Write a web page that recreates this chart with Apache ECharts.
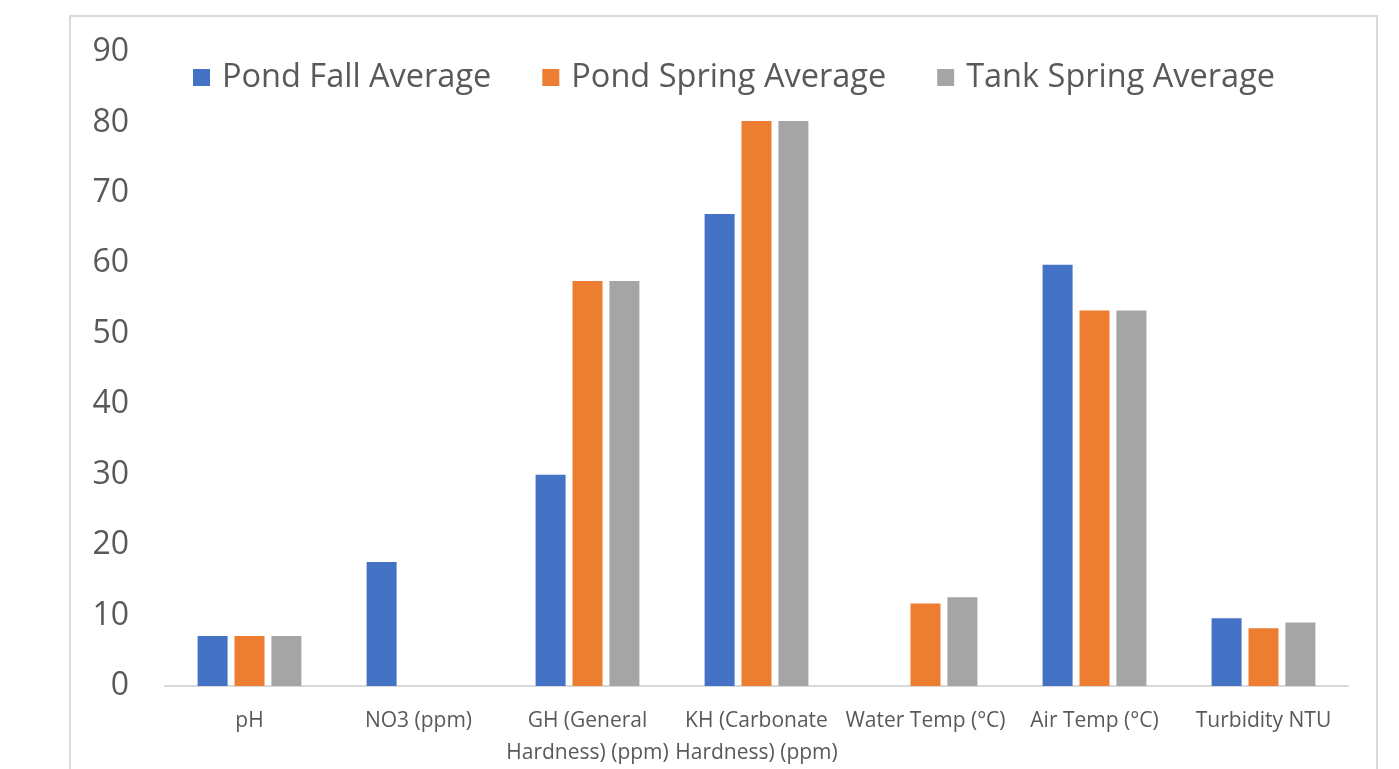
<!DOCTYPE html>
<html>
<head>
<meta charset="utf-8">
<title>Pond and Tank Water Quality Averages</title>
<script src="https://cdn.jsdelivr.net/npm/echarts@6/dist/echarts.min.js"></script>
<style>
  html, body { margin: 0; padding: 0; background: #ffffff; }
  #chart { width: 1399px; height: 769px; }
</style>
</head>
<body>
<div id="chart"></div>
<script>
// Measured parameters (categories on the x axis)
const categories = [
  'pH',
  'NO3 (ppm)',
  'GH (General\nHardness) (ppm)',
  'KH (Carbonate\nHardness) (ppm)',
  'Water Temp (\u00B0C)',
  'Air Temp (\u00B0C)',
  'Turbidity NTU'
];

// Series names
const seriesNames = ['Pond Fall Average', 'Pond Spring Average', 'Tank Spring Average'];

// Averages per parameter (null = not measured)
const pondFall   = [7.1, 17.6, 30.0, 67.0, null, 59.8, 9.6];
const pondSpring = [7.1, null, 57.5, 80.2, 11.7, 53.3, 8.2];
const tankSpring = [7.1, null, 57.5, 80.2, 12.6, 53.3, 9.0];

// Value axis ticks
const yMin = 0;
const yMax = 90;
const yStep = 10;

const colors = ['#4472C4', '#ED7D31', '#A5A5A5'];
const textColor = '#595959';
const fontFamily = '"Open Sans", "Noto Sans", sans-serif';

const chart = echarts.init(document.getElementById('chart'), null, { renderer: 'canvas' });

const values = [pondFall, pondSpring, tankSpring];

chart.setOption({
  animation: false,
  backgroundColor: '#ffffff',
  color: colors,
  textStyle: { fontFamily: fontFamily },
  graphic: [{
    type: 'rect',
    silent: true,
    shape: { x: 70, y: 16, width: 1307, height: 800 },
    style: { fill: null, stroke: '#d9d9d9', lineWidth: 2 }
  }],
  legend: {
    top: 61,
    left: 193,
    padding: 0,
    itemWidth: 17,
    itemHeight: 17,
    itemGap: 51,
    icon: 'rect',
    textStyle: {
      fontFamily: fontFamily,
      fontSize: 32.5,
      color: textColor,
      padding: [0, 0, 0, 7]
    },
    data: seriesNames
  },
  grid: {
    left: 165,
    right: 51,
    top: 52,
    bottom: 78,
    containLabel: false
  },
  xAxis: {
    type: 'category',
    data: categories,
    axisLine: { show: true, lineStyle: { color: '#d9d9d9', width: 2 } },
    axisTick: { show: false },
    axisLabel: {
      interval: 0,
      color: textColor,
      fontFamily: fontFamily,
      fontSize: 21,
      lineHeight: 32,
      margin: 19
    },
    splitLine: { show: false }
  },
  yAxis: {
    type: 'value',
    min: yMin,
    max: yMax,
    interval: yStep,
    axisLine: { show: false },
    axisTick: { show: false },
    splitLine: { show: false },
    axisLabel: {
      color: textColor,
      fontFamily: fontFamily,
      fontSize: 32,
      margin: 36
    }
  },
  series: seriesNames.map((name, i) => ({
    name: name,
    type: 'bar',
    data: values[i],
    barWidth: 30,
    barGap: '23%',
    itemStyle: { color: colors[i] }
  }))
});
</script>
</body>
</html>
